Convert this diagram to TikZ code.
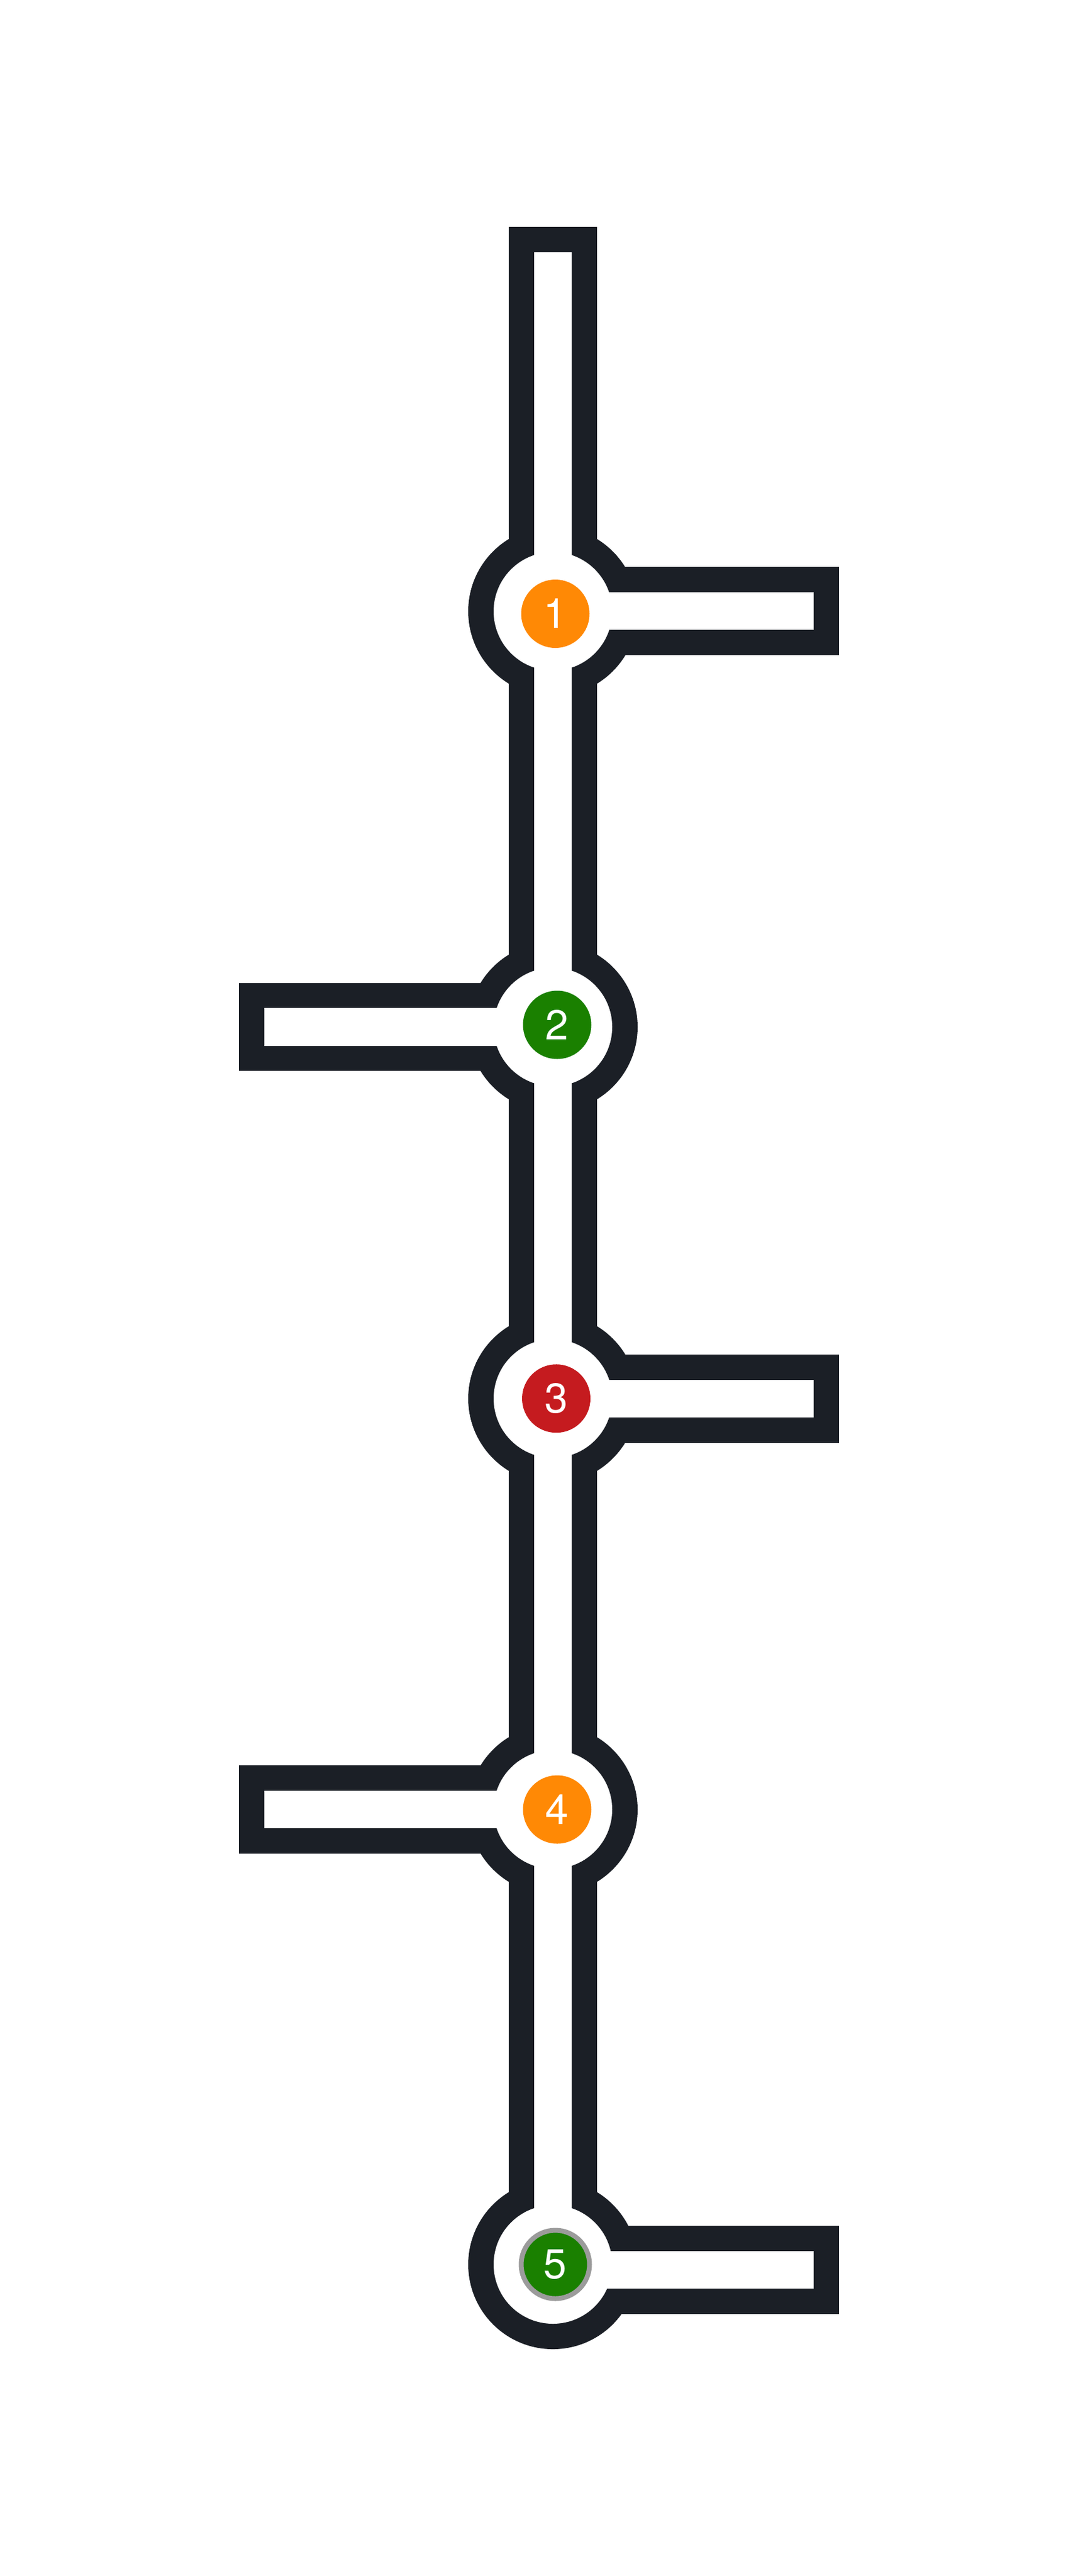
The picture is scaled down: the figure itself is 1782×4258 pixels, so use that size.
\documentclass[tikz,border=0pt]{standalone}
\usepackage{fontspec}
\newfontfamily\numfont{TeX Gyre Heros}
\definecolor{tubeblack}{RGB}{27,31,38}
\definecolor{stnorange}{RGB}{255,137,5}
\definecolor{stngreen}{RGB}{26,128,0}
\definecolor{stnred}{RGB}{197,27,31}
\definecolor{stngrey}{RGB}{155,155,155}
\begin{document}
\begin{tikzpicture}[x=1pt,y=-1pt,
  station/.style={circle, inner sep=0pt, minimum size=113pt, text=white,
    font=\numfont\fontsize{69}{69}\selectfont},
  outer/.style={fill=tubeblack},
  inner/.style={fill=white}]
\useasboundingbox (0,0) rectangle (1782,4258);
\fill[white] (0,0) rectangle (1782,4258);
% outer (black) shapes
\fill[outer] (841,375) rectangle (987,3743);
\foreach \yy in {1010.5,1697.5,2311.7,2991,3743}
  \fill[outer] (914,\yy) circle[radius=140];
\fill[outer] (914,937.3) rectangle (1387.3,1083);
\fill[outer] (914,2238.8) rectangle (1387.3,2384.6);
\fill[outer] (914,3679) rectangle (1387.3,3825);
\fill[outer] (395.3,1625) rectangle (914,1770.3);
\fill[outer] (395.3,2918) rectangle (914,3064);
% inner (white) shapes
\fill[inner] (883,417) rectangle (945,3743);
\foreach \yy in {1010.5,1697.5,2311.7,2991,3743}
  \fill[inner] (914,\yy) circle[radius=98];
\fill[inner] (914,979) rectangle (1345.3,1041.3);
\fill[inner] (914,2280.6) rectangle (1345.3,2342.8);
\fill[inner] (914,3720.7) rectangle (1345.3,3783.3);
\fill[inner] (436.7,1666.3) rectangle (914,1728.7);
\fill[inner] (436.7,2959.8) rectangle (914,3022.2);
% stations
\node[station, fill=stnorange] (s1) at (918,1014.5) {1};
\node[station, fill=stngreen] (s2) at (921,1694) {2};
\node[station, fill=stnred] (s3) at (919.5,2311.7) {3};
\node[station, fill=stnorange] (s4) at (921,2991) {4};
\node[station, fill=stngreen, draw=stngrey, line width=8pt] (s5) at (918,3743) {5};
\end{tikzpicture}
\end{document}
